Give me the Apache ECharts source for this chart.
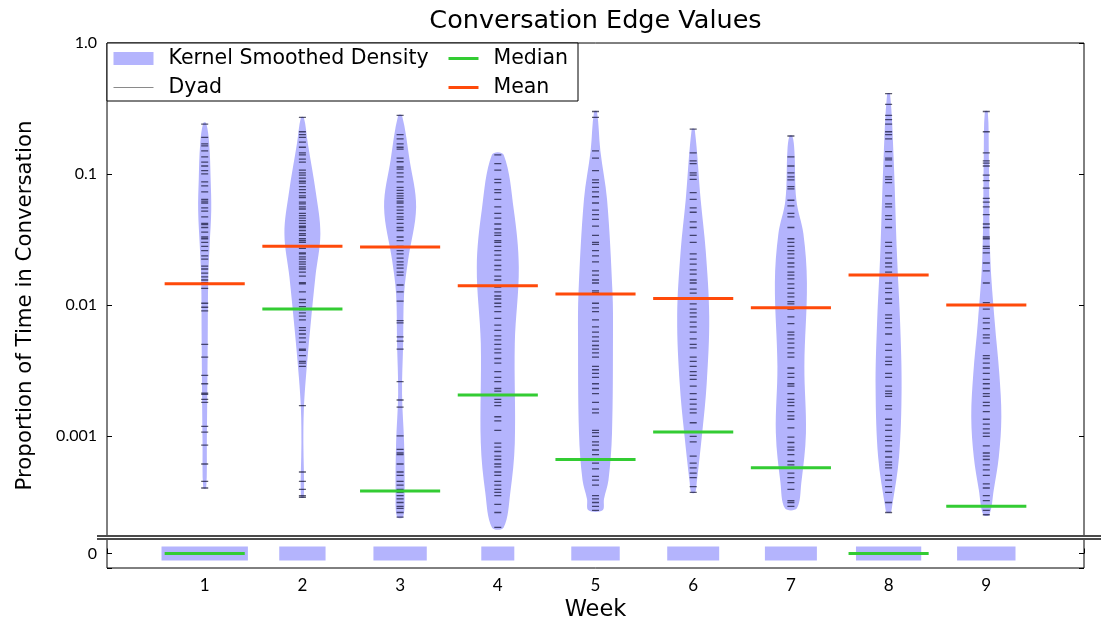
<!DOCTYPE html>
<html>
<head>
<meta charset="utf-8">
<title>Conversation Edge Values</title>
<script src="https://cdn.jsdelivr.net/npm/echarts@6/dist/echarts.min.js"></script>
<style>
  html, body { margin: 0; padding: 0; background: #fff; }
  #chart { width: 1101px; height: 626px; }
</style>
</head>
<body>
<div id="chart"></div>
<script>
// ---- data -------------------------------------------------------------
const weeks = [1, 2, 3, 4, 5, 6, 7, 8, 9];

// per-dyad proportion of time in conversation (non-zero dyads only)
const dyadsW1 = [0.24, 0.19, 0.17, 0.164, 0.15, 0.135, 0.123, 0.115, 0.106, 0.1, 0.087, 0.081, 0.073, 0.064, 0.062, 0.060, 0.055, 0.052, 0.047, 0.042, 0.041, 0.039, 0.036, 0.033, 0.032, 0.030, 0.028, 0.026, 0.0237, 0.0224, 0.0198, 0.0188, 0.0175, 0.0164, 0.0155, 0.0148, 0.0145, 0.0134, 0.0103, 0.0096, 0.0090, 0.0050, 0.0040, 0.0029, 0.0025, 0.00212, 0.00208, 0.0019, 0.0018, 0.00118, 0.00107, 0.00085, 0.00061, 0.00045, 0.00040];
const dyadsW2 = [0.27, 0.21, 0.20, 0.19, 0.175, 0.16, 0.145, 0.14, 0.13, 0.123, 0.107, 0.102, 0.098, 0.093, 0.088, 0.085, 0.080, 0.076, 0.072, 0.068, 0.066, 0.061, 0.059, 0.056, 0.054, 0.050, 0.048, 0.046, 0.044, 0.042, 0.040, 0.039, 0.037, 0.035, 0.034, 0.032, 0.031, 0.030, 0.028, 0.027, 0.025, 0.0245, 0.0233, 0.0224, 0.0213, 0.0205, 0.0195, 0.0188, 0.0178, 0.0166, 0.0148, 0.0145, 0.0126, 0.0110, 0.0104, 0.0097, 0.0092, 0.0087, 0.0082, 0.0077, 0.0067, 0.0064, 0.0060, 0.0056, 0.0052, 0.0046, 0.0045, 0.0041, 0.0037, 0.0036, 0.0034, 0.0017, 0.00053, 0.00045, 0.00039, 0.00035, 0.00034];
const dyadsW3 = [0.28, 0.20, 0.185, 0.17, 0.16, 0.155, 0.132, 0.124, 0.113, 0.109, 0.102, 0.095, 0.087, 0.079, 0.075, 0.071, 0.068, 0.065, 0.062, 0.060, 0.056, 0.053, 0.050, 0.047, 0.045, 0.042, 0.039, 0.037, 0.033, 0.031, 0.028, 0.026, 0.0245, 0.0228, 0.0213, 0.0202, 0.0191, 0.0178, 0.0169, 0.0142, 0.0126, 0.0107, 0.0076, 0.0073, 0.0057, 0.0053, 0.0046, 0.0026, 0.00188, 0.00166, 0.0010, 0.00079, 0.00074, 0.00072, 0.00061, 0.00053, 0.00050, 0.00045, 0.00042, 0.00039, 0.00037, 0.00035, 0.00033, 0.00031, 0.00029, 0.00028, 0.00026, 0.00024];
const dyadsW4 = [0.14, 0.12, 0.107, 0.091, 0.086, 0.076, 0.072, 0.064, 0.056, 0.050, 0.046, 0.0415, 0.038, 0.0355, 0.034, 0.031, 0.030, 0.028, 0.026, 0.024, 0.022, 0.020, 0.0185, 0.0166, 0.0155, 0.0137, 0.0126, 0.0117, 0.0111, 0.0103, 0.0097, 0.0089, 0.0079, 0.0070, 0.0064, 0.0058, 0.0054, 0.0050, 0.0046, 0.0043, 0.0039, 0.0036, 0.0031, 0.0028, 0.0026, 0.0023, 0.0022, 0.00205, 0.0019, 0.0018, 0.0017, 0.0014, 0.0013, 0.0011, 0.00088, 0.00082, 0.00076, 0.00070, 0.00066, 0.00061, 0.00058, 0.00053, 0.00050, 0.00045, 0.00042, 0.00039, 0.00037, 0.00035, 0.00030, 0.00026, 0.00020];
const dyadsW5 = [0.30, 0.27, 0.15, 0.132, 0.106, 0.090, 0.086, 0.079, 0.073, 0.067, 0.060, 0.053, 0.049, 0.045, 0.040, 0.034, 0.030, 0.029, 0.026, 0.0237, 0.0213, 0.0182, 0.0169, 0.0155, 0.0147, 0.0128, 0.0124, 0.0103, 0.0095, 0.0089, 0.0077, 0.0068, 0.0062, 0.0057, 0.0053, 0.0049, 0.0046, 0.0043, 0.0040, 0.0034, 0.0032, 0.0030, 0.0028, 0.0025, 0.0023, 0.0021, 0.0018, 0.0016, 0.0015, 0.0011, 0.00106, 0.00099, 0.00090, 0.00085, 0.00078, 0.00072, 0.00066, 0.00062, 0.00056, 0.00049, 0.00046, 0.00042, 0.00035, 0.00033, 0.00031, 0.00029, 0.00027];
const dyadsW6 = [0.22, 0.145, 0.126, 0.12, 0.102, 0.098, 0.091, 0.072, 0.064, 0.055, 0.051, 0.043, 0.039, 0.034, 0.030, 0.0245, 0.0224, 0.0205, 0.0185, 0.0172, 0.0155, 0.0147, 0.0132, 0.0123, 0.0112, 0.0102, 0.0093, 0.0087, 0.0081, 0.0074, 0.0068, 0.0062, 0.0055, 0.0050, 0.0047, 0.0040, 0.0037, 0.0034, 0.0031, 0.0029, 0.0027, 0.0024, 0.0021, 0.0019, 0.00175, 0.0016, 0.0015, 0.00126, 0.00107, 0.00099, 0.00090, 0.00070, 0.00062, 0.00057, 0.00052, 0.00048, 0.00041, 0.00037];
const dyadsW7 = [0.195, 0.135, 0.115, 0.102, 0.095, 0.090, 0.080, 0.077, 0.063, 0.057, 0.050, 0.047, 0.039, 0.032, 0.030, 0.028, 0.026, 0.0245, 0.0228, 0.0209, 0.0195, 0.0178, 0.0169, 0.0158, 0.0145, 0.0134, 0.0123, 0.0115, 0.0106, 0.0102, 0.0093, 0.0081, 0.0072, 0.0062, 0.0059, 0.0055, 0.0051, 0.0047, 0.0043, 0.0040, 0.0033, 0.0030, 0.0028, 0.0025, 0.0024, 0.0021, 0.0019, 0.0018, 0.0017, 0.00153, 0.00142, 0.00134, 0.00115, 0.00098, 0.00089, 0.00082, 0.00078, 0.00072, 0.00064, 0.00060, 0.00057, 0.00052, 0.00048, 0.00044, 0.00039, 0.00032, 0.00031, 0.00029];
const dyadsW8 = [0.41, 0.34, 0.28, 0.26, 0.24, 0.21, 0.20, 0.185, 0.148, 0.132, 0.128, 0.115, 0.095, 0.091, 0.086, 0.068, 0.059, 0.056, 0.048, 0.045, 0.039, 0.030, 0.028, 0.025, 0.0228, 0.0209, 0.0195, 0.0178, 0.0147, 0.0134, 0.0124, 0.0111, 0.0103, 0.0084, 0.0079, 0.0073, 0.0067, 0.0060, 0.0050, 0.0045, 0.0040, 0.0037, 0.0035, 0.0030, 0.0028, 0.0024, 0.0022, 0.0021, 0.0020, 0.0017, 0.0016, 0.00134, 0.00121, 0.00110, 0.00099, 0.00092, 0.00084, 0.00076, 0.00069, 0.00063, 0.00060, 0.00057, 0.00050, 0.00046, 0.00041, 0.00037, 0.00031, 0.00026];
const dyadsW9 = [0.30, 0.21, 0.145, 0.126, 0.121, 0.115, 0.098, 0.089, 0.078, 0.065, 0.061, 0.056, 0.049, 0.0415, 0.039, 0.033, 0.032, 0.028, 0.027, 0.025, 0.0209, 0.0182, 0.0147, 0.0104, 0.0093, 0.0079, 0.0073, 0.0066, 0.0059, 0.0056, 0.0051, 0.0041, 0.0039, 0.0036, 0.0033, 0.0030, 0.0027, 0.0025, 0.0023, 0.0021, 0.0020, 0.0018, 0.0017, 0.00153, 0.00134, 0.00123, 0.00113, 0.00105, 0.00099, 0.00084, 0.00074, 0.00070, 0.00066, 0.00060, 0.00055, 0.00050, 0.00043, 0.00040, 0.00035, 0.00032, 0.00027, 0.00025];

// kernel smoothed density: [value, density], density in week units (half of violin width)
const kdeW1 = [[0.245, 0.015], [0.17, 0.046], [0.09, 0.061], [0.053, 0.067], [0.029, 0.051], [0.016, 0.036], [0.0051, 0.031], [0.00088, 0.022], [0.0004, 0.015]];
const kdeW2 = [[0.27, 0.015], [0.17, 0.056], [0.072, 0.138], [0.035, 0.184], [0.0164, 0.133], [0.0068, 0.082], [0.0028, 0.036], [0.0016, 0.015], [0.00088, 0.010], [0.00034, 0.015]];
const kdeW3 = [[0.28, 0.02], [0.128, 0.097], [0.056, 0.164], [0.022, 0.082], [0.0122, 0.041], [0.005, 0.031], [0.0021, 0.02], [0.00088, 0.041], [0.00037, 0.046], [0.00024, 0.031]];
const kdeW4 = [[0.14, 0.06], [0.053, 0.164], [0.0194, 0.215], [0.0051, 0.174], [0.00088, 0.174], [0.00037, 0.128], [0.0002, 0.06]];
const kdeW5 = [[0.30, 0.015], [0.15, 0.05], [0.064, 0.118], [0.0124, 0.174], [0.006, 0.179], [0.00105, 0.169], [0.00046, 0.133], [0.00033, 0.087], [0.00027, 0.072]];
const kdeW6 = [[0.22, 0.015], [0.063, 0.077], [0.026, 0.128], [0.0081, 0.164], [0.0025, 0.138], [0.00105, 0.092], [0.00044, 0.036], [0.00037, 0.02]];
const kdeW7 = [[0.195, 0.015], [0.15, 0.036], [0.063, 0.056], [0.035, 0.128], [0.0147, 0.164], [0.0034, 0.138], [0.00105, 0.154], [0.00044, 0.107], [0.00028, 0.061]];
const kdeW8 = [[0.41, 0.015], [0.135, 0.051], [0.023, 0.087], [0.0073, 0.118], [0.0023, 0.133], [0.00069, 0.107], [0.00029, 0.036], [0.00026, 0.02]];
const kdeW9 = [[0.30, 0.015], [0.135, 0.026], [0.023, 0.041], [0.0073, 0.087], [0.003, 0.133], [0.0014, 0.154], [0.00069, 0.128], [0.00039, 0.077], [0.00025, 0.031]];

// share of dyads with no conversation (half width of the bar at 0, week units)
const zeroShare = [0.442, 0.237, 0.273, 0.169, 0.248, 0.266, 0.266, 0.334, 0.299];

const meanValues   = [0.0145, 0.028, 0.0277, 0.014, 0.0121, 0.0112, 0.0095, 0.0169, 0.0100];
const medianValues = [0, 0.0093, 0.00038, 0.00205, 0.00066, 0.00107, 0.00057, 0, 0.00029];

const yTickValues = [1, 0.1, 0.01, 0.001];
const yTickLabels = ['1.0', '0.1', '0.01', '0.001'];

// ---- layout & style ---------------------------------------------------
const FONT = 'Lato';             // tick labels
const TEXT_FONT = 'DejaVu Sans'; // title, axis names, legend
const W = 1101;
const LEFT = 107, RIGHT = 17, TOP = 43, MAIN_H = 493, BREAK_GAP = 3, LOWER_H = 29;
const Y_MIN = 1.72e-4;
const DYAD_HALF = 0.036, STAT_HALF = 0.41, ZERO_BAR_HALF = 0.48;
const VIOLIN_COLOR = '#b4b4fd';
const MEAN_COLOR = '#ff4a0a';
const MEDIAN_COLOR = '#33cc33';
const DYAD_COLOR = 'rgba(10,10,40,0.68)';

const dyads = [dyadsW1, dyadsW2, dyadsW3, dyadsW4, dyadsW5, dyadsW6, dyadsW7, dyadsW8, dyadsW9];
const kde = [kdeW1, kdeW2, kdeW3, kdeW4, kdeW5, kdeW6, kdeW7, kdeW8, kdeW9];

// short horizontal segments, separated by '-' gaps so the line breaks
function segmentData(pairs, half) {
  const out = [];
  pairs.forEach(([x, y]) => { out.push([x - half, y], [x + half, y], '-'); });
  return out;
}

const dyadPairs = [];
weeks.forEach((w, i) => dyads[i].forEach(v => dyadPairs.push([w, v])));
const meanPairs = weeks.map((w, i) => [w, meanValues[i]]);
const medianPairs = weeks.map((w, i) => [w, medianValues[i]]).filter(p => p[1] > 0);
const medianZeroPairs = weeks.map((w, i) => [w, medianValues[i]]).filter(p => p[1] === 0);

function logLabel(v) {
  const k = yTickValues.findIndex(t => Math.abs(Math.log10(v) - Math.log10(t)) < 1e-6);
  return k >= 0 ? yTickLabels[k] : '';
}

const tickStyle = { inside: true, length: 5, lineStyle: { color: '#000', width: 1 } };
const labelFont = { fontFamily: FONT, fontSize: 16, color: '#000' };
const hiddenSymbol = { opacity: 0 };
const legendText = { fontFamily: TEXT_FONT, fontSize: 20.5, color: '#000', padding: [0, 0, 0, 10] };

const lowerTop = TOP + MAIN_H + BREAK_GAP;
const plotCenterX = LEFT + (W - LEFT - RIGHT) / 2;

const option = {
  animation: false,
  backgroundColor: '#fff',
  grid: [
    { left: LEFT, right: RIGHT, top: TOP, height: MAIN_H, show: true, borderColor: '#000', borderWidth: 1, outerBoundsMode: 'none' },
    { left: LEFT, right: RIGHT, top: lowerTop, height: LOWER_H, show: true, borderColor: '#000', borderWidth: 1, outerBoundsMode: 'none' }
  ],
  xAxis: [
    { gridIndex: 0, type: 'value', min: 0, max: 10, show: false },
    {
      gridIndex: 1, type: 'value', min: 0, max: 10, interval: 1,
      axisLine: { show: false }, splitLine: { show: false },
      axisTick: tickStyle,
      axisLabel: Object.assign({ margin: 9, formatter: v => (weeks.indexOf(v) >= 0 ? String(v) : '') }, labelFont, { fontSize: 17 }),
      name: 'Week', nameLocation: 'middle', nameGap: 31,
      nameTextStyle: { fontFamily: TEXT_FONT, fontSize: 22.5, color: '#000' }
    }
  ],
  yAxis: [
    {
      gridIndex: 0, type: 'log', logBase: 10, min: Y_MIN, max: 1, position: 'left',
      axisLine: { show: false }, splitLine: { show: false }, minorTick: { show: false },
      axisTick: tickStyle,
      axisLabel: Object.assign({ margin: 10, formatter: logLabel, showMinLabel: true, showMaxLabel: true }, labelFont)
    },
    {
      gridIndex: 0, type: 'log', logBase: 10, min: Y_MIN, max: 1, position: 'right',
      axisLine: { show: false }, splitLine: { show: false },
      axisTick: tickStyle, axisLabel: { show: false }
    },
    {
      gridIndex: 1, type: 'value', min: -1, max: 1, interval: 1, position: 'left',
      axisLine: { show: false }, splitLine: { show: false },
      axisTick: tickStyle,
      axisLabel: Object.assign({ margin: 10, formatter: v => (v === 0 ? '0' : '') }, labelFont)
    },
    {
      gridIndex: 1, type: 'value', min: -1, max: 1, interval: 1, position: 'right',
      axisLine: { show: false }, splitLine: { show: false },
      axisTick: tickStyle, axisLabel: { show: false }
    }
  ],
  legend: [
    {
      left: LEFT + 6, top: 48, orient: 'vertical', padding: 0, itemGap: 8,
      itemWidth: 40, itemHeight: 13, selectedMode: false, z: 20,
      textStyle: legendText,
      lineStyle: { width: 1 },
      data: [
        { name: 'Kernel Smoothed Density', icon: 'rect' },
        { name: 'Dyad', lineStyle: { color: '#8a8a8a', width: 1 }, itemStyle: hiddenSymbol }
      ]
    },
    {
      left: 447, top: 48, orient: 'vertical', padding: 0, itemGap: 8,
      itemWidth: 30, itemHeight: 13, selectedMode: false, z: 20,
      textStyle: legendText,
      lineStyle: { width: 3 },
      itemStyle: hiddenSymbol,
      data: ['Median', 'Mean']
    }
  ],
  graphic: [
    {
      type: 'rect', z: 10, silent: true,
      shape: { x: LEFT, y: TOP, width: 578 - LEFT, height: 101 - TOP },
      style: { fill: '#fff', stroke: '#000', lineWidth: 1 }
    },
    {
      type: 'line', z: 10, silent: true,
      shape: { x1: LEFT - 10, y1: TOP + MAIN_H, x2: W, y2: TOP + MAIN_H },
      style: { stroke: '#4a4a4a', lineWidth: 2 }
    },
    {
      type: 'line', z: 10, silent: true,
      shape: { x1: LEFT - 10, y1: lowerTop, x2: W, y2: lowerTop },
      style: { stroke: '#4a4a4a', lineWidth: 2 }
    },
    {
      type: 'text', z: 10, silent: true, x: plotCenterX, y: 21,
      style: { text: 'Conversation Edge Values', align: 'center', verticalAlign: 'middle', fontFamily: TEXT_FONT, fontSize: 25.5, fill: '#000' }
    },
    {
      type: 'text', z: 10, silent: true, x: 25, y: (TOP + lowerTop + LOWER_H) / 2, rotation: Math.PI / 2,
      style: { text: 'Proportion of Time in Conversation', align: 'center', verticalAlign: 'middle', fontFamily: TEXT_FONT, fontSize: 21.3, fill: '#000' }
    }
  ],
  series: [
    {
      name: 'Kernel Smoothed Density', type: 'custom', xAxisIndex: 0, yAxisIndex: 0, z: 2, silent: true,
      itemStyle: { color: VIOLIN_COLOR },
      data: meanPairs, encode: { x: 0, y: 1 },
      renderItem: function (params, api) {
        const w = api.value(0);
        const prof = kde[params.dataIndex];
        const leftSide = prof.map(([v, h]) => api.coord([w - h, v]));
        const rightSide = prof.slice().reverse().map(([v, h]) => api.coord([w + h, v]));
        return {
          type: 'polygon',
          shape: { points: leftSide.concat(rightSide), smooth: 0.35 },
          style: { fill: VIOLIN_COLOR }
        };
      }
    },
    {
      name: 'Kernel Smoothed Density', type: 'custom', xAxisIndex: 1, yAxisIndex: 2, z: 2, silent: true,
      itemStyle: { color: VIOLIN_COLOR },
      data: weeks.map(w => [w, 0]), encode: { x: 0, y: 1 },
      renderItem: function (params, api) {
        const w = api.value(0);
        const z = zeroShare[params.dataIndex];
        const p1 = api.coord([w - z, ZERO_BAR_HALF]);
        const p2 = api.coord([w + z, -ZERO_BAR_HALF]);
        return {
          type: 'rect',
          shape: { x: p1[0], y: p1[1], width: p2[0] - p1[0], height: p2[1] - p1[1] },
          style: { fill: VIOLIN_COLOR }
        };
      }
    },
    {
      name: 'Dyad', type: 'line', xAxisIndex: 0, yAxisIndex: 0, z: 3, silent: true,
      symbol: 'none', connectNulls: false,
      lineStyle: { color: DYAD_COLOR, width: 1.3 },
      data: segmentData(dyadPairs, DYAD_HALF)
    },
    {
      name: 'Median', type: 'line', xAxisIndex: 0, yAxisIndex: 0, z: 4, silent: true,
      symbol: 'none', connectNulls: false,
      lineStyle: { color: MEDIAN_COLOR, width: 3 },
      data: segmentData(medianPairs, STAT_HALF)
    },
    {
      name: 'Median', type: 'line', xAxisIndex: 1, yAxisIndex: 2, z: 4, silent: true,
      symbol: 'none', connectNulls: false,
      lineStyle: { color: MEDIAN_COLOR, width: 3 },
      data: segmentData(medianZeroPairs, STAT_HALF)
    },
    {
      name: 'Mean', type: 'line', xAxisIndex: 0, yAxisIndex: 0, z: 4, silent: true,
      symbol: 'none', connectNulls: false,
      lineStyle: { color: MEAN_COLOR, width: 3 },
      data: segmentData(meanPairs, STAT_HALF)
    }
  ]
};

const chart = echarts.init(document.getElementById('chart'), null, { renderer: 'canvas' });
chart.setOption(option);
</script>
</body>
</html>
